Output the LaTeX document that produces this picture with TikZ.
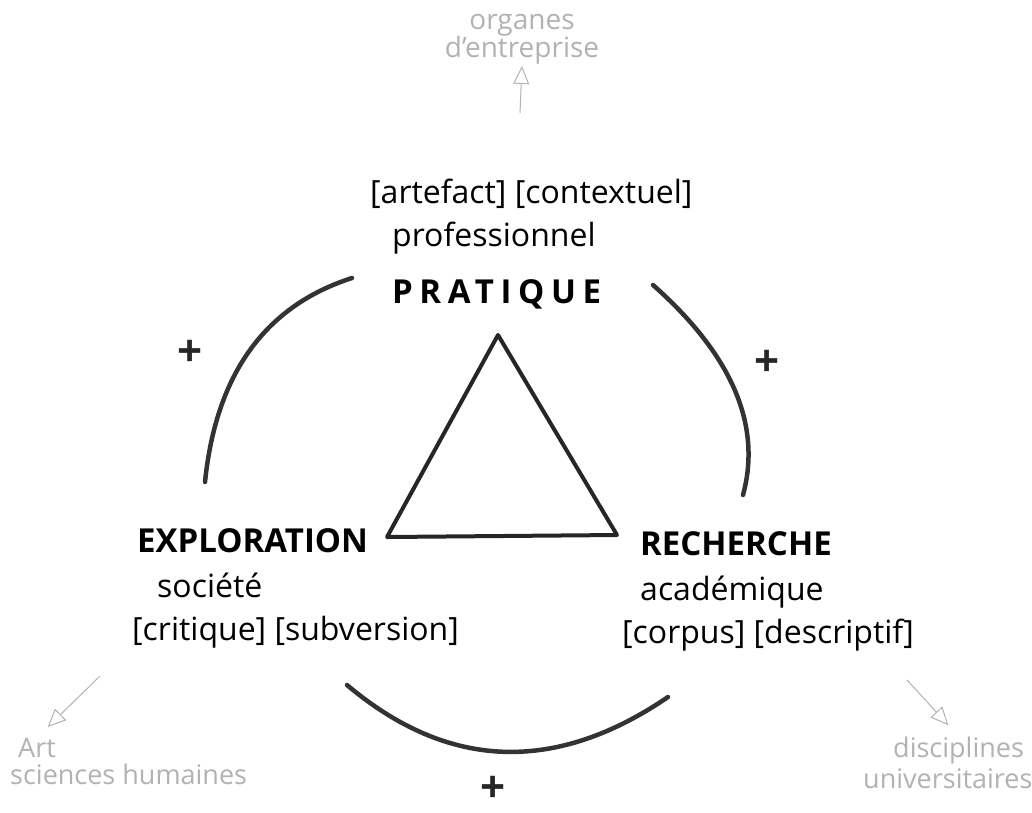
\documentclass[tikz,border=0pt]{standalone}
\usepackage{fontspec}
\setmainfont{Open Sans}
\newfontfamily\spacedfont[LetterSpace=20]{Open Sans}
\usetikzlibrary{arrows.meta}

\begin{document}
\begin{tikzpicture}[x=1pt,y=-1pt,
  hand/.style={anchor=base west,inner sep=0pt,font=\fontsize{32}{36}\selectfont},
  title/.style={anchor=base west,inner sep=0pt,font=\bfseries\fontsize{33}{36}\selectfont},
  note/.style={inner sep=0pt,gray!60,font=\fontsize{27}{30}\selectfont},
  plus/.style={inner sep=0pt,black!85,font=\bfseries\fontsize{44}{44}\selectfont},
  arc/.style={line width=4.5pt,black!80,line cap=round},
  tri/.style={line width=4pt,black!85,line join=round},
  arrow/.style={gray!60,line width=1pt,shorten >=2pt,
    -{Triangle[open,length=18pt,width=16pt]}}]

\useasboundingbox (0,0) rectangle (1032,812);

\node[hand] (prattags) at (370,203) {[artefact] [contextuel]};
\node[hand] (prof) at (392,246) {professionnel};
\node[title,font=\spacedfont\bfseries\fontsize{33}{36}\selectfont] (pratique) at (392,303) {PRATIQUE};

\node[title] (explo) at (137,552) {EXPLORATION};
\node[hand] (societe) at (157,597) {société};
\node[hand] (explotags) at (132,640) {[critique] [subversion]};

\node[title] (recherche) at (640,555) {RECHERCHE};
\node[hand] (acad) at (640,600) {académique};
\node[hand] (rechtags) at (622,643) {[corpus] [descriptif]};

\coordinate (tritop) at (498,335);
\coordinate (trileft) at (387,537);
\coordinate (triright) at (617,535);
\draw[tri] (tritop) -- (trileft) -- (triright) -- cycle;

\draw[arc] (352,278) .. controls (265,306) and (216,374) .. (205,482);
\draw[arc] (653,285) .. controls (732,355) and (762,425) .. (743,495);
\draw[arc] (347,685) .. controls (448,770) and (555,774) .. (668,697);

\node[plus] (plusleft) at (190,353) {+};
\node[plus] (plusright) at (767,363) {+};
\node[plus] (plusbottom) at (493,789) {+};

\node[note,align=center,anchor=south,font=\fontsize{28}{28}\selectfont] (organes) at (522,64) {organes\\d'entreprise};
\coordinate (orgfoot) at (520,113);
\draw[arrow] (orgfoot) -- (organes.south);

\node[note,anchor=base west] (art) at (18,757) {Art};
\node[note,anchor=base west] (sciences) at (10,784) {sciences humaines};
\coordinate (artfoot) at (100,676);
\draw[arrow,shorten >=15pt] (artfoot) -- (art.north);

\node[note,anchor=base west] (disciplines) at (893,757) {disciplines};
\node[note,anchor=base west] (universitaires) at (863,788) {universitaires};
\coordinate (discfoot) at (907,680);
\draw[arrow,shorten >=15pt] (discfoot) -- (disciplines.north);
\end{tikzpicture}
\end{document}
